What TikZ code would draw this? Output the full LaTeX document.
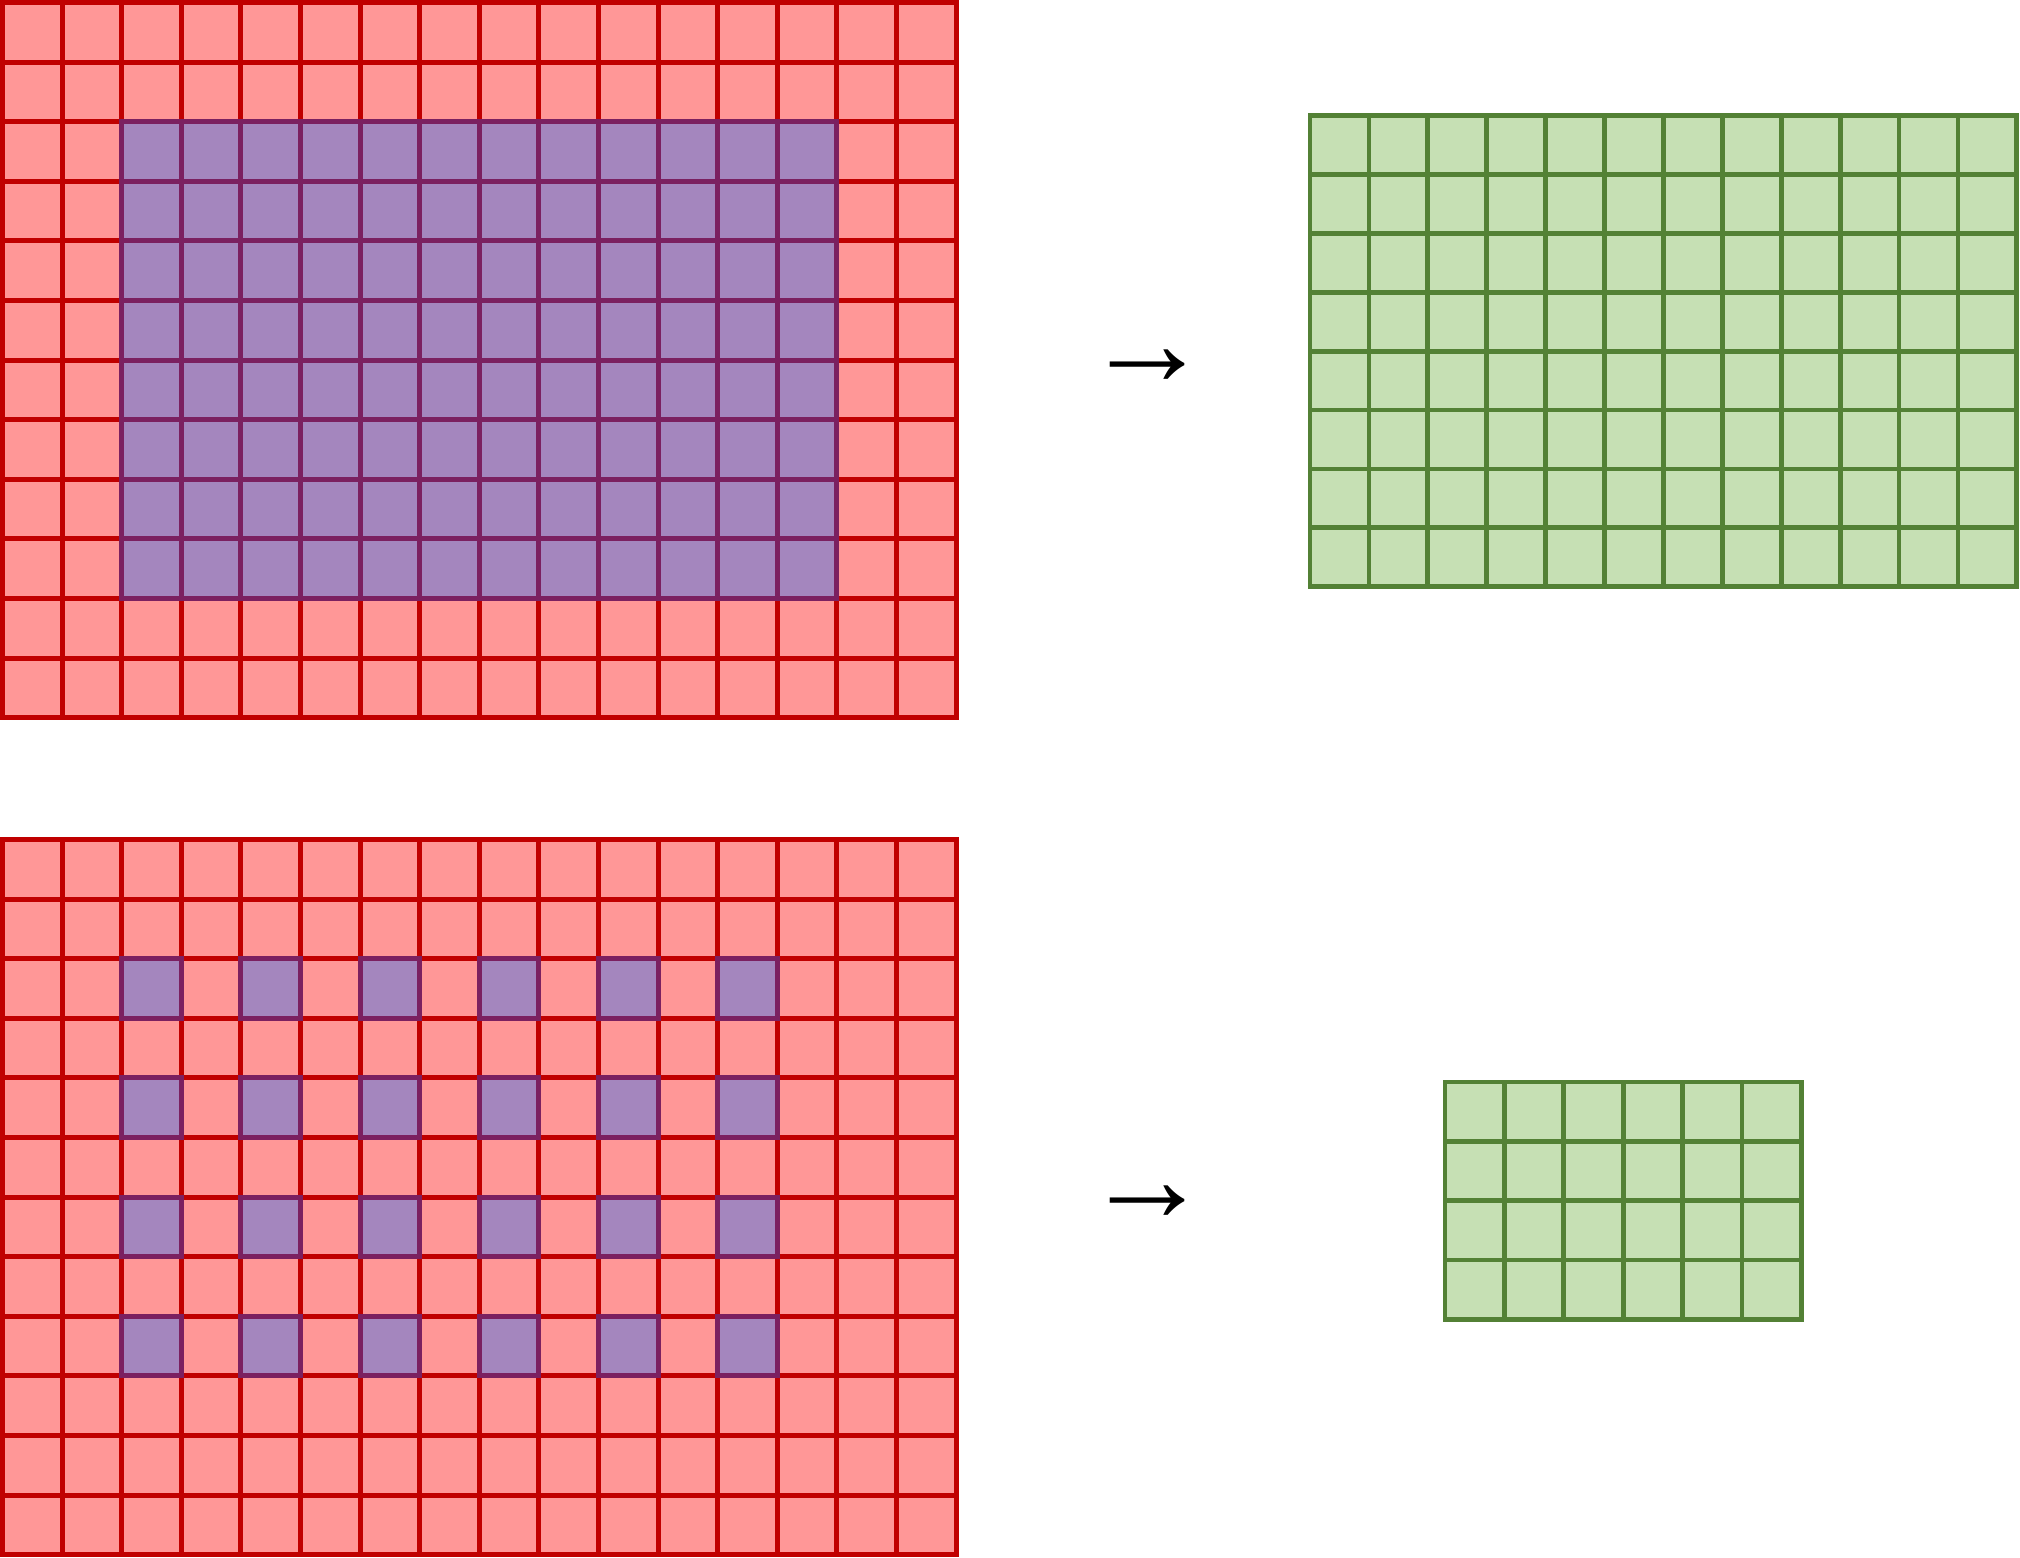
\documentclass[tikz,border=0pt]{standalone}
\usepackage{fontspec}
\newfontfamily\arrowfont{Liberation Serif}
\definecolor{redfill}{HTML}{FF9797}
\definecolor{redline}{HTML}{C00000}
\definecolor{purfill}{HTML}{A486BE}
\definecolor{purline}{HTML}{7B2060}
\definecolor{grnfill}{HTML}{C6E0B4}
\definecolor{grnline}{HTML}{538135}
\tikzset{
  redcell/.style={fill=redfill, draw=redline, line width=2.5pt},
  purcell/.style={fill=purfill, draw=purline, line width=2.5pt},
  grncell/.style={fill=grnfill, draw=grnline, line width=2.4pt},
  arrowglyph/.style={inner sep=0pt, font=\arrowfont\fontsize{63}{66}\selectfont}
}
\begin{document}
\begin{tikzpicture}[x=0.5pt,y=-0.5pt]
\useasboundingbox (0,0) rectangle (2020,1558);
% top input grid 16x12
\foreach \i in {0,...,15} \foreach \j in {0,...,11}
  \draw[redcell] ({2.5+\i*59.6},{2.5+\j*59.6}) rectangle ++(59.6,59.6);
\foreach \i in {2,...,13} \foreach \j in {2,...,9}
  \draw[purcell] ({2.5+\i*59.6},{2.5+\j*59.6}) rectangle ++(59.6,59.6);
% bottom input grid 16x12
\foreach \i in {0,...,15} \foreach \j in {0,...,11}
  \draw[redcell] ({2.5+\i*59.6},{839.5+\j*59.6}) rectangle ++(59.6,59.6);
\foreach \i in {2,4,...,12} \foreach \j in {2,4,6,8}
  \draw[purcell] ({2.5+\i*59.6},{839.5+\j*59.6}) rectangle ++(59.6,59.6);
% top output grid 12x8
\foreach \i in {0,...,11} \foreach \j in {0,...,7}
  \draw[grncell] ({1310+\i*58.9},{115.5+\j*58.9}) rectangle ++(58.9,58.9);
% bottom output grid 6x4
\foreach \i in {0,...,5} \foreach \j in {0,...,3}
  \draw[grncell] ({1445+\i*59.4},{1082+\j*59.3}) rectangle ++(59.4,59.3);
% arrows
\node[arrowglyph] (arr1) at (1147,368) {→};
\node[arrowglyph] (arr2) at (1147,1204) {→};
\end{tikzpicture}
\end{document}
